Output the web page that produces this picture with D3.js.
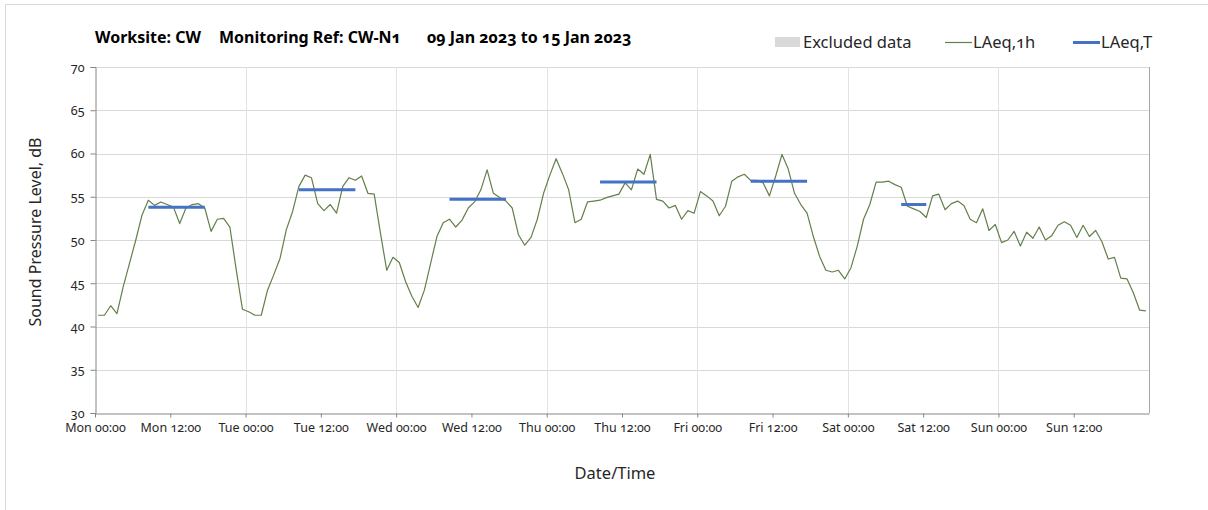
<!DOCTYPE html>
<html>
<head>
<meta charset="utf-8">
<script src="https://cdn.jsdelivr.net/npm/d3@7"></script>
<style>
  body { margin: 0; background: #fff; }
  svg, svg text { font-family: "Noto Sans", "Open Sans", sans-serif; font-variant-numeric: oldstyle-nums; }
</style>
</head>
<body>
<div id="chart"></div>
<script>
// LAeq,1h - one value per hour, Mon 09 Jan 2023 00:00 .. Sun 15 Jan 2023 23:00
const monday    = [41.3, 41.3, 42.4, 41.5, 44.6, 47.3, 50.0, 52.9, 54.6, 54.0, 54.4, 54.1, 53.8, 51.9, 53.7, 54.1, 54.2, 53.7, 51.0, 52.4, 52.5, 51.5, 46.6, 42.0];
const tuesday   = [41.7, 41.3, 41.3, 44.2, 46.0, 47.9, 51.2, 53.3, 56.2, 57.5, 57.2, 54.2, 53.4, 54.1, 53.1, 56.2, 57.2, 56.9, 57.4, 55.4, 55.3, 50.8, 46.5, 48.0];
const wednesday = [47.4, 45.2, 43.5, 42.2, 44.2, 47.3, 50.4, 52.0, 52.4, 51.5, 52.3, 53.7, 54.4, 55.8, 58.1, 55.4, 54.9, 54.5, 53.7, 50.6, 49.4, 50.3, 52.4, 55.4];
const thursday  = [57.5, 59.4, 57.7, 55.8, 52.0, 52.4, 54.4, 54.5, 54.6, 54.9, 55.1, 55.3, 56.6, 55.8, 58.2, 57.6, 59.9, 54.7, 54.5, 53.7, 54.0, 52.4, 53.4, 53.1];
const friday    = [55.6, 55.1, 54.5, 52.8, 53.9, 56.8, 57.3, 57.6, 56.9, 56.9, 56.6, 55.1, 57.4, 59.9, 58.2, 55.4, 54.1, 53.1, 50.4, 48.1, 46.5, 46.3, 46.5, 45.5];
const saturday  = [46.8, 49.3, 52.4, 54.1, 56.7, 56.7, 56.8, 56.4, 56.1, 53.9, 53.6, 53.3, 52.6, 55.1, 55.3, 53.5, 54.2, 54.5, 54.0, 52.4, 52.0, 53.6, 51.1, 51.8];
const sunday    = [49.7, 50.0, 51.0, 49.3, 50.9, 50.2, 51.5, 50.0, 50.5, 51.7, 52.1, 51.7, 50.3, 51.7, 50.4, 51.1, 49.8, 47.8, 48.0, 45.6, 45.5, 43.9, 41.9, 41.8];

// LAeq,T - daytime periods (day index from Monday, start/end hour, level)
const periodDays   = [0, 1, 2, 3, 4, 5];
const periodStart  = [8, 8, 8, 8, 8, 8];
const periodEnd    = [18, 18, 18, 18, 18, 13];
const periodLevels = [53.8, 55.8, 54.7, 56.7, 56.8, 54.1];

const yTicks = [30, 35, 40, 45, 50, 55, 60, 65, 70];

const startDate = new Date(2023, 0, 9, 0, 0);
const endDate = new Date(2023, 0, 16, 0, 0);
const hourMs = 3600 * 1000;

const hourly = [monday, tuesday, wednesday, thursday, friday, saturday, sunday].flat()
    .map((v, i) => ({ t: new Date(+startDate + (i + 0.5) * hourMs), v: v }));

const periods = periodDays.map((d, i) => ({
    t0: new Date(+startDate + (d * 24 + periodStart[i] + 0.5) * hourMs),
    t1: new Date(+startDate + (d * 24 + periodEnd[i] - 0.5) * hourMs),
    v: periodLevels[i]
}));

const width = 1208, height = 510;
const margin = { top: 67, right: 59, bottom: 97, left: 95 };

const svg = d3.select("#chart").append("svg")
    .attr("width", width).attr("height", height);

// cadre
svg.append("rect")
    .attr("x", 5.5).attr("y", 4.5)
    .attr("width", width + 10).attr("height", height + 10)
    .attr("fill", "none").attr("stroke", "#d9d9d9");

const x = d3.scaleTime().domain([startDate, endDate]).range([margin.left, width - margin.right]);
const y = d3.scaleLinear().domain([30, 70]).range([height - margin.bottom, margin.top]);

// grille horizontale
svg.append("g")
    .selectAll("line")
    .data(yTicks.slice(1))
    .enter().append("line")
    .attr("x1", margin.left).attr("x2", width - margin.right)
    .attr("y1", d => Math.round(y(d)) + 0.5).attr("y2", d => Math.round(y(d)) + 0.5)
    .attr("stroke", "#d9d9d9");

// grille verticale (jours)
svg.append("g")
    .selectAll("line")
    .data(d3.timeDay.range(d3.timeDay.offset(startDate, 1), d3.timeDay.offset(endDate, 1)))
    .enter().append("line")
    .attr("x1", d => Math.round(x(d)) + 0.5).attr("x2", d => Math.round(x(d)) + 0.5)
    .attr("y1", margin.top).attr("y2", height - margin.bottom)
    .attr("stroke", d => +d === +endDate ? "#a6a6a6" : "#e3e3e3");

// axe Y
const yAxis = svg.append("g")
    .attr("transform", `translate(${margin.left + 0.5},0)`)
    .call(d3.axisLeft(y).tickValues(yTicks).tickSize(5).tickPadding(6));
yAxis.attr("font-family", null);
yAxis.select(".domain").attr("stroke", "#868686");
yAxis.selectAll(".tick line").attr("stroke", "#868686");
yAxis.selectAll("text").attr("fill", "#262626").style("font-size", "12.5px");

// axe X
const xAxis = svg.append("g")
    .attr("transform", `translate(0,${Math.round(height - margin.bottom) + 0.5})`)
    .call(d3.axisBottom(x)
        .ticks(d3.timeHour.every(12))
        .tickFormat(d3.timeFormat("%a %H:%M"))
        .tickSize(4).tickSizeOuter(0).tickPadding(6));
xAxis.attr("font-family", null);
xAxis.select(".domain").attr("stroke", "#868686");
xAxis.selectAll(".tick line").attr("stroke", "#868686");
xAxis.selectAll("text").attr("fill", "#262626").style("font-size", "12.5px");
xAxis.selectAll(".tick").filter(d => +d === +endDate).remove();

// LAeq,1h
svg.append("path")
    .datum(hourly)
    .attr("fill", "none")
    .attr("stroke", "#637f4b")
    .attr("stroke-width", 1.2)
    .attr("stroke-linejoin", "round")
    .attr("d", d3.line().x(d => x(d.t)).y(d => y(d.v)));

// LAeq,T
svg.append("g")
    .selectAll("line")
    .data(periods)
    .enter().append("line")
    .attr("x1", d => x(d.t0)).attr("x2", d => x(d.t1))
    .attr("y1", d => y(d.v)).attr("y2", d => y(d.v))
    .attr("stroke", "#4472c4")
    .attr("stroke-width", 3);

// titre
const title = svg.append("g").style("font-size", "16px").style("font-weight", "bold").attr("fill", "#000");
title.append("text").attr("x", 95).attr("y", 43).text("Worksite: CW");
title.append("text").attr("x", 219).attr("y", 43).text("Monitoring Ref: CW-N1");
title.append("text").attr("x", 427).attr("y", 43).text("09 Jan 2023 to 15 Jan 2023");

// légende
const legend = svg.append("g").style("font-size", "16.5px").attr("fill", "#262626");
legend.append("rect").attr("x", 775).attr("y", 37).attr("width", 25).attr("height", 10).attr("fill", "#d9d9d9");
legend.append("text").attr("x", 803).attr("y", 48).text("Excluded data");
legend.append("line").attr("x1", 945).attr("x2", 972).attr("y1", 42.5).attr("y2", 42.5)
    .attr("stroke", "#637f4b").attr("stroke-width", 1.2);
legend.append("text").attr("x", 973).attr("y", 48).text("LAeq,1h");
legend.append("line").attr("x1", 1073).attr("x2", 1100).attr("y1", 42.5).attr("y2", 42.5)
    .attr("stroke", "#4472c4").attr("stroke-width", 3);
legend.append("text").attr("x", 1101).attr("y", 48).text("LAeq,T");

// titres des axes
svg.append("text")
    .attr("x", 615).attr("y", 479)
    .attr("text-anchor", "middle")
    .style("font-size", "16.5px").attr("fill", "#262626")
    .text("Date/Time");

svg.append("text")
    .attr("transform", "translate(41,232) rotate(-90)")
    .attr("text-anchor", "middle")
    .style("font-size", "16px").attr("fill", "#262626")
    .text("Sound Pressure Level, dB");
</script>
</body>
</html>
